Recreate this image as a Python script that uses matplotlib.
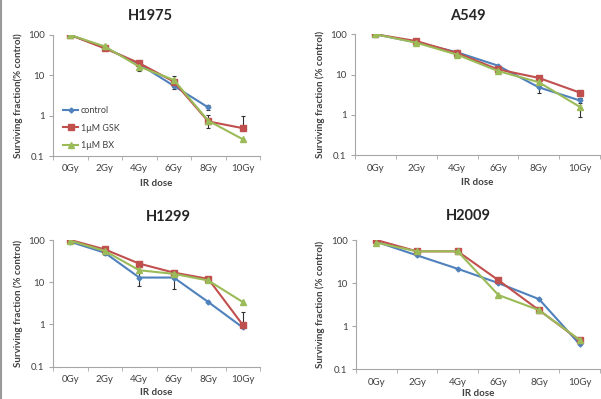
import numpy as np
import matplotlib
matplotlib.use("Agg")
import matplotlib.pyplot as plt
from matplotlib.lines import Line2D

plt.rcParams['font.family'] = ['Lato', 'DejaVu Sans']

doses = ["0Gy", "2Gy", "4Gy", "6Gy", "8Gy", "10Gy"]
series_names = ["control", "1μM GSK", "1μM BX"]
nan = np.nan

# H1975
h1975_control = [100, 48.5, 19, 5.5, 1.6, nan]
h1975_gsk = [100, 46.7, 20, 7.0, 0.72, 0.49]
h1975_bx = [100, 52, 16.4, 7.7, 0.75, 0.26]
h1975_control_lo = [nan, nan, nan, 4.5, 1.35, nan]
h1975_control_hi = [nan, nan, nan, 6.5, 1.85, nan]
h1975_gsk_lo = [nan, nan, nan, nan, 0.5, nan]
h1975_gsk_hi = [nan, nan, nan, nan, 1.05, 0.98]
h1975_bx_lo = [nan, nan, 13, 6.0, nan, nan]
h1975_bx_hi = [nan, nan, 19, 9.4, nan, nan]

# A549
a549_control = [100, 63, 35.8, 16.7, 4.85, 2.3]
a549_gsk = [100, 68, 34.5, 13.5, 8.3, 3.6]
a549_bx = [100, 62, 31.3, 12.3, 6.5, 1.6]
a549_control_lo = [nan, nan, nan, nan, 3.5, 2.0]
a549_control_hi = [nan, nan, nan, nan, 6.5, 2.6]
a549_gsk_lo = [nan, nan, nan, nan, nan, 3.2]
a549_gsk_hi = [nan, nan, nan, nan, nan, 4.0]
a549_bx_lo = [nan, nan, nan, nan, nan, 0.9]
a549_bx_hi = [nan, nan, nan, nan, nan, 2.6]

# H1299
h1299_control = [91, 50, 12.9, 12.9, 3.4, 0.85]
h1299_gsk = [100, 60, 27.6, 16.9, 12, 0.98]
h1299_bx = [96, 55, 19.2, 15.8, 11, 3.4]
h1299_control_lo = [nan, 43, 8.2, 6.8, nan, nan]
h1299_control_hi = [nan, 57, 17, 17.7, nan, nan]
h1299_gsk_lo = [nan, nan, nan, nan, nan, 0.85]
h1299_gsk_hi = [nan, nan, nan, nan, nan, 2.0]
h1299_bx_lo = [nan, nan, nan, nan, nan, nan]
h1299_bx_hi = [nan, nan, nan, nan, nan, nan]

# H2009
h2009_control = [91, 44, 21.5, 10, 4.25, 0.38]
h2009_gsk = [100, 54.5, 54.5, 11.7, 2.36, 0.47]
h2009_bx = [86.7, 54.5, 54.5, 5.3, 2.36, 0.48]

colors = ["#4F81BD", "#C0504D", "#9BBB59"]
markers = ["D", "s", "^"]
msizes = [2.5, 4, 4]

panels = [
    dict(title="H1975", ylabel="Surviving fraction(% control)",
         data=[h1975_control, h1975_gsk, h1975_bx],
         lo=[h1975_control_lo, h1975_gsk_lo, h1975_bx_lo],
         hi=[h1975_control_hi, h1975_gsk_hi, h1975_bx_hi],
         rect=[53, 35, 260, 156], title_xy=(150, 16), legend=True, xl=23),
    dict(title="A549", ylabel="Surviving fraction (% control)",
         data=[a549_control, a549_gsk, a549_bx],
         lo=[a549_control_lo, a549_gsk_lo, a549_bx_lo],
         hi=[a549_control_hi, a549_gsk_hi, a549_bx_hi],
         rect=[355, 34.3, 600, 155.3], title_xy=(468, 16), legend=False, xl=23),
    dict(title="H1299", ylabel="Surviving fraction (% control)",
         data=[h1299_control, h1299_gsk, h1299_bx],
         lo=[h1299_control_lo, h1299_gsk_lo, h1299_bx_lo],
         hi=[h1299_control_hi, h1299_gsk_hi, h1299_bx_hi],
         rect=[53, 240, 260, 366.7], title_xy=(168, 217), legend=False, xl=21),
    dict(title="H2009", ylabel="Surviving fraction (% control)",
         data=[h2009_control, h2009_gsk, h2009_bx],
         lo=None, hi=None,
         rect=[356, 240, 600, 369.3], title_xy=(468, 216), legend=False, xl=20),
]

W, H = 601, 399
fig = plt.figure(figsize=(W / 100, H / 100), dpi=100)
fig.patch.set_facecolor("white")

axis_gray = "#A6A6A6"
text_col = "#404040"
x = np.arange(len(doses))

for p in panels:
    l, t, r, b = p["rect"]
    ax = fig.add_axes([l / W, 1 - b / H, (r - l) / W, (b - t) / H])
    ax.set_yscale("log")
    ax.set_ylim(0.1, 100)
    ax.set_xlim(-0.5, len(doses) - 0.5)
    for i, (vals, name) in enumerate(zip(p["data"], series_names)):
        vals = np.array(vals, dtype=float)
        ax.plot(x, vals, color=colors[i], marker=markers[i], ms=msizes[i],
                lw=1.5, label=name, zorder=3 + i)
        if p["lo"] is not None:
            lo = np.array(p["lo"][i], dtype=float)
            hi = np.array(p["hi"][i], dtype=float)
            lo_err = np.where(np.isnan(lo), 0, vals - lo)
            hi_err = np.where(np.isnan(hi), 0, hi - vals)
            mask = ~(np.isnan(lo) & np.isnan(hi))
            if mask.any():
                ax.errorbar(x[mask], vals[mask],
                            yerr=[lo_err[mask], hi_err[mask]],
                            fmt="none", ecolor="#303030", elinewidth=0.8,
                            capsize=1.5, capthick=0.8, zorder=2)
    for s in ["top", "right"]:
        ax.spines[s].set_visible(False)
    for s in ["left", "bottom"]:
        ax.spines[s].set_color(axis_gray)
        ax.spines[s].set_linewidth(0.8)
    ax.set_yticks([0.1, 1, 10, 100])
    ax.set_yticklabels(["0.1", "1", "10", "100"])
    ax.yaxis.set_minor_locator(matplotlib.ticker.NullLocator())
    ax.tick_params(axis="y", which="major", length=3, color=axis_gray,
                   labelsize=7, labelcolor=text_col, pad=3)
    ax.set_xticks(x)
    ax.set_xticklabels(doses)
    ax.set_xticks(np.arange(-0.5, len(doses), 1.0), minor=True)
    ax.tick_params(axis="x", which="major", length=0, labelsize=7,
                   labelcolor=text_col, pad=6)
    ax.tick_params(axis="x", which="minor", length=3, color=axis_gray)
    ax.set_xlabel("IR dose", fontsize=7, fontweight="bold", color=text_col)
    ax.xaxis.set_label_coords(0.5, -p["xl"] / (b - t))
    ax.set_ylabel(p["ylabel"], fontsize=7, fontweight="bold", color=text_col)
    ax.yaxis.set_label_coords(-(l - (23 if l < 100 else 325)) / (r - l), 0.5)
    fig.text(p["title_xy"][0] / W, 1 - p["title_xy"][1] / H, p["title"],
             ha="center", va="center", fontsize=10.5, fontweight="bold",
             color="#262626")
    if p["legend"]:
        ax.legend(loc="lower left", bbox_to_anchor=(0.02, 0.0), frameon=False,
                  fontsize=6.5, handlelength=1.6, handletextpad=0.3,
                  labelspacing=0.9, labelcolor=text_col, borderaxespad=0.3)

fig.add_artist(Line2D([0.5 / W, 0.5 / W], [0, 1], color="#9A9A9A", lw=1.5,
                      transform=fig.transFigure))

fig.savefig("out.png", dpi=100, facecolor="white")
